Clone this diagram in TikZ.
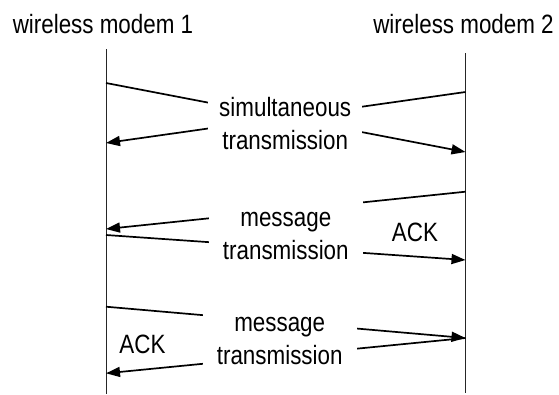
\documentclass[tikz,border=0pt]{standalone}
\usepackage{fontspec}
\setmainfont{Liberation Sans}[FakeStretch=0.845]
\usepackage{tikz}
\usetikzlibrary{arrows.meta}
\tikzset{>={Triangle[length=14pt,width=10pt]}}
\tikzset{
  lifeline/.style={line width=0.9pt,black!85},
  msg/.style={line width=1.7pt,->},
  gapbox/.style={fill=white,inner sep=0pt,minimum width=154pt,minimum height=80pt,align=center},
  lbl/.style={inner sep=0pt,anchor=base}
}

\begin{document}
\begin{tikzpicture}[x=1pt,y=-1pt,font=\fontsize{26.5}{33}\selectfont]
      \useasboundingbox (0,0) rectangle (559,394);
      % lifelines
      \coordinate (l-top) at (106,49);
      \coordinate (l-bot) at (106,394);
      \coordinate (r-top) at (465.5,53);
      \coordinate (r-bot) at (465.5,393);
      \draw[lifeline] (l-top)--(l-bot);
      \draw[lifeline] (r-top)--(r-bot);
      \node[lbl] (modem1) at (103,33) {wireless modem 1};
      \node[lbl] (modem2) at (463.5,33) {wireless modem 2};
      % end points on the lifelines
      \coordinate (a1) at (106,83);    \coordinate (a2) at (465.5,152);
      \coordinate (b1) at (465.5,92);  \coordinate (b2) at (106,143);
      \coordinate (c1) at (465.5,191.7); \coordinate (c2) at (106,229);
      \coordinate (d1) at (106,235);   \coordinate (d2) at (465.5,260);
      \coordinate (e1) at (106,306.7); \coordinate (e2) at (465.5,338);
      \coordinate (f2) at (106,373.3);
      \draw[msg] (a1)--(a2);
      \draw[msg] (b1)--(b2);
      \draw[msg] (c1)--(c2);
      \draw[msg] (d1)--(d2);
      \draw[msg] (e1)--(e2);
      \draw[msg] (e2)--(f2);
      % labels on the messages
      \node[gapbox] (simul) at (285.2,124) {simultaneous\\transmission};
      \node[gapbox] (mesg1) at (285.8,236) {message\\transmission};
      \node[gapbox] (mesg2) at (279.7,340.6) {message\\transmission};
      \node[lbl] (ack1) at (415,241) {ACK};
      \node[lbl] (ack2) at (142.5,353) {ACK};
\end{tikzpicture}
\end{document}
